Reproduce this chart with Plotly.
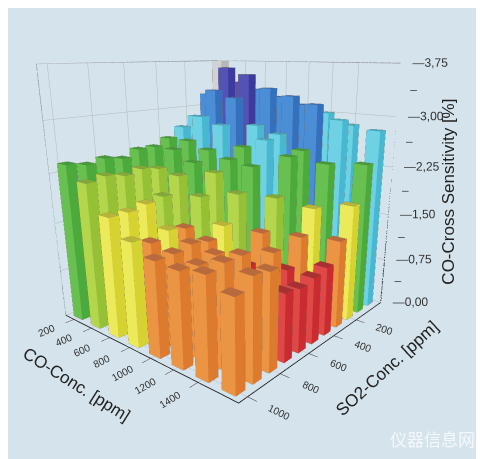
import plotly.graph_objects as go

# CO concentration for each bar column, ppm
co_conc = [200, 400, 600, 800, 1000, 1200, 1400, 1600]
# SO2 concentration for each bar row, ppm
so2_conc = [0, 100, 200, 300, 400, 500, 600, 700, 800, 900, 1000]

# cross sensitivity [%], one list per SO2 row (values along co_conc)
sens_so2_0 = [3.85, 3.40, 3.30, 3.20, 3.10, 3.00, 2.85, 2.80]
sens_so2_100 = [3.20, 3.65, 3.55, 3.35, 3.25, 3.15, 2.95, 2.35]
sens_so2_200 = [2.85, 3.30, 3.20, 2.80, 2.70, 2.50, 2.35, 1.80]
sens_so2_300 = [2.70, 2.90, 2.80, 2.50, 2.65, 2.45, 1.75, 1.35]
sens_so2_400 = [2.55, 2.55, 2.45, 2.35, 2.30, 1.90, 1.40, 1.05]
sens_so2_500 = [2.45, 2.45, 2.30, 2.20, 1.95, 1.45, 1.00, 1.00]
sens_so2_600 = [2.45, 2.20, 2.15, 1.90, 1.55, 1.05, 1.35, 0.95]
sens_so2_700 = [2.35, 2.25, 1.90, 1.50, 1.40, 1.00, 1.05, 1.00]
sens_so2_800 = [2.40, 2.20, 1.85, 1.55, 1.45, 1.40, 1.50, 1.40]
sens_so2_900 = [2.35, 2.25, 1.80, 1.45, 1.40, 1.35, 1.50, 1.45]
sens_so2_1000 = [2.40, 2.20, 1.80, 1.55, 1.40, 1.38, 1.45, 1.30]

sens_rows = [sens_so2_0, sens_so2_100, sens_so2_200, sens_so2_300, sens_so2_400,
             sens_so2_500, sens_so2_600, sens_so2_700, sens_so2_800, sens_so2_900,
             sens_so2_1000]

z_ticks = [0, 0.75, 1.5, 2.25, 3.0, 3.75]
z_labels = ["0,00", "0,75", "1,50", "2,25", "3,00", "3,75"]
z_minor = [0.375, 1.125, 1.875, 2.625, 3.375]
co_ticks = [200, 400, 600, 800, 1000, 1200, 1400]
so2_ticks = [200, 400, 600, 800, 1000]

X_RANGE = [-50, 1050]
Y_RANGE = [100, 1700]
Z_TOP = 3.75

# colour map: upper bounds of each level and (light, dark, top) shades
levels = [1.125, 1.5, 1.875, 2.25, 2.625, 3.0, 3.375, 3.75, 99]
shades = [
    ("#e04848", "#c82c30", "#a83030"),   # red
    ("#eb9444", "#dc7a2e", "#b86a3c"),   # orange
    ("#ecea5a", "#d6d232", "#b8b43a"),   # yellow
    ("#b4d64c", "#96c036", "#82a83a"),   # yellow-green
    ("#68c050", "#4caa3c", "#46983c"),   # green
    ("#6ed2e4", "#48b8d0", "#48a8bc"),   # cyan
    ("#4c8ed6", "#3470bc", "#3a6aa8"),   # blue
    ("#5452b4", "#3c3a9c", "#3c3a88"),   # indigo
    ("#d0d2d4", "#b4b6b8", "#a8aaac"),   # grey (above range)
]


def shade_for(v):
    for lim, s in zip(levels, shades):
        if v <= lim:
            return s
    return shades[-1]


hx = 27   # half width along SO2
hy = 50   # half width along CO

xs, ys, zs = [], [], []
ii, jj, kk, fc = [], [], [], []
ex, ey, ez = [], [], []

for so2, row in zip(so2_conc, sens_rows):
    for co, val in zip(co_conc, row):
        x0, x1 = so2 - hx, so2 + hx
        y0, y1 = co - hy, co + hy
        b = len(xs)
        for (px, py, pz) in [(x0, y0, 0), (x1, y0, 0), (x1, y1, 0), (x0, y1, 0),
                             (x0, y0, val), (x1, y0, val), (x1, y1, val), (x0, y1, val)]:
            xs.append(px); ys.append(py); zs.append(pz)
        light, dark, top = shade_for(val)
        tris = [
            ((0, 1, 2), dark), ((0, 2, 3), dark),
            ((4, 5, 6), top), ((4, 6, 7), top),
            ((0, 1, 5), dark), ((0, 5, 4), dark),
            ((1, 2, 6), light), ((1, 6, 5), light),
            ((2, 3, 7), dark), ((2, 7, 6), dark),
            ((3, 0, 4), light), ((3, 4, 7), light),
        ]
        for (a, c, d), col in tris:
            ii.append(b + a); jj.append(b + c); kk.append(b + d); fc.append(col)
        # visible outline of the bar
        for p, q in [((x1, y0, val), (x1, y1, val)), ((x1, y1, val), (x0, y1, val)),
                     ((x0, y1, val), (x0, y0, val)), ((x0, y0, val), (x1, y0, val)),
                     ((x1, y0, 0), (x1, y0, val)), ((x1, y1, 0), (x1, y1, val)),
                     ((x0, y1, 0), (x0, y1, val)),
                     ((x1, y0, 0), (x1, y1, 0)), ((x1, y1, 0), (x0, y1, 0))]:
            ex += [p[0], q[0], None]
            ey += [p[1], q[1], None]
            ez += [p[2], q[2], None]

fig = go.Figure()
fig.add_trace(go.Mesh3d(
    x=xs, y=ys, z=zs, i=ii, j=jj, k=kk, facecolor=fc,
    flatshading=True,
    lighting=dict(ambient=1.0, diffuse=0.0, specular=0.0, roughness=1.0, fresnel=0.0),
    hoverinfo="skip", showscale=False,
))
fig.add_trace(go.Scatter3d(
    x=ex, y=ey, z=ez, mode="lines",
    line=dict(color="rgba(70,55,45,0.55)", width=1),
    hoverinfo="skip", showlegend=False,
))

# back-wall frame (top edges and vertical corners) in light grey
xa, xb = X_RANGE
ya, yb = Y_RANGE
fig.add_trace(go.Scatter3d(
    x=[xb, xa, xa, None, xb, xb, None, xa, xa],
    y=[ya, ya, yb, None, ya, ya, None, ya, ya],
    z=[Z_TOP, Z_TOP, Z_TOP, None, 0, Z_TOP, None, 0, Z_TOP],
    mode="lines", line=dict(color="#8c9094", width=1.5),
    hoverinfo="skip", showlegend=False,
))

# z axis drawn on the right vertical edge (labels carry the tick dash)
fig.add_trace(go.Scatter3d(
    x=[xa, xa], y=[yb, yb], z=[0, Z_TOP], mode="lines",
    line=dict(color="#222222", width=2.5), hoverinfo="skip", showlegend=False,
))
fig.add_trace(go.Scatter3d(
    x=[xa] * len(z_ticks), y=[yb] * len(z_ticks), z=z_ticks,
    mode="text", text=["\u2014" + s for s in z_labels], textposition="middle right",
    textfont=dict(family="Liberation Sans, Arial, sans-serif", size=12, color="#333333"),
    hoverinfo="skip", showlegend=False,
))
fig.add_trace(go.Scatter3d(
    x=[xa] * len(z_minor), y=[yb] * len(z_minor), z=z_minor,
    mode="text", text=["\u2013"] * len(z_minor), textposition="middle right",
    textfont=dict(family="Liberation Sans, Arial, sans-serif", size=12, color="#333333"),
    hoverinfo="skip", showlegend=False,
))

axis_font = dict(family="Liberation Sans, Arial, sans-serif", size=11, color="#333333")
title_font = dict(family="Liberation Sans, Arial, sans-serif", size=17, color="#222222")
common = dict(
    showbackground=False, showgrid=True, gridcolor="#b4b8bc", gridwidth=1,
    showline=True, linecolor="#222222", linewidth=2,
    ticks="outside", ticklen=8, tickcolor="#222222",
    tickfont=axis_font, zeroline=False, showspikes=False,
)

fig.update_layout(
    width=484, height=459,
    margin=dict(l=0, r=0, t=0, b=0),
    paper_bgcolor="#d5e3ec",
    showlegend=False,
    scene=dict(
        domain=dict(x=[0.0, 1.0], y=[0.0, 1.0]),
        xaxis=dict(common, title=dict(text="SO2-Conc. [ppm]", font=title_font),
                   range=X_RANGE, tickvals=so2_ticks),
        yaxis=dict(common, title=dict(text="CO-Conc. [ppm]", font=title_font),
                   range=Y_RANGE, tickvals=co_ticks),
        zaxis=dict(common, title=dict(text=""), showline=False, ticks="",
                   showticklabels=False, range=[0, Z_TOP], tickvals=z_ticks),
        aspectmode="manual",
        aspectratio=dict(x=1.0, y=1.0, z=1.05),
        camera=dict(eye=dict(x=1.67, y=1.52, z=0.57),
                    center=dict(x=-0.07, y=0.075, z=-0.19),
                    projection=dict(type="perspective")),
        bgcolor="#d5e3ec",
    ),
    annotations=[
        dict(text="CO-Cross Sensitivity [%]", x=0.935, y=0.6, xref="paper", yref="paper",
             textangle=-90, showarrow=False, font=title_font),
        dict(text="仪器信息网", x=0.97, y=0.03, xref="paper", yref="paper",
             xanchor="right", yanchor="bottom", showarrow=False,
             font=dict(family="Noto Sans CJK SC", size=17, color="rgba(255,255,255,0.75)")),
    ],
)

fig.write_html("out.html")
